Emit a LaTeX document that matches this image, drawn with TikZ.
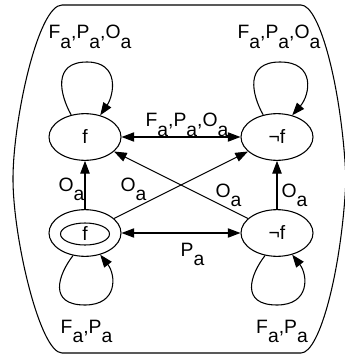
\documentclass[tikz,border=0pt]{standalone}
\usepackage{fontspec}
\setmainfont{Liberation Sans}
\usetikzlibrary{shapes.geometric,arrows.meta}
\newcommand\sba{\raisebox{-0.5em}{a}}
\begin{document}
\begin{tikzpicture}[x=0.75pt,y=-0.75pt,
  font=\fontsize{14.5}{17}\selectfont,
  st/.style={ellipse,draw,line width=0.8pt,minimum width=54pt,minimum height=35pt,inner sep=0pt},
  tip/.tip={Triangle[length=9.5pt,width=7pt]},
  tr/.style={line width=0.8pt,-tip},
  bi/.style={line width=0.8pt,tip-tip},
  lab/.style={anchor=base,inner sep=0pt}]
\useasboundingbox (0,0) rectangle (344,356);
% frame
\draw[line width=0.8pt] (62,5) -- (301,5)
  .. controls (320,5) and (342,90) .. (346,179)
  .. controls (342,268) and (320,353) .. (301,353) -- (62,353)
  .. controls (40,353) and (13,238) .. (13,179)
  .. controls (13,120) and (38,5) .. (62,5) -- cycle;
% states
\node[st] (f1) at (85,137) {f};
\node[st] (nf1) at (277,137) {¬f};
\node[st] (f2) at (85,233) {};
\node[ellipse,draw,line width=0.8pt,minimum width=36.75pt,minimum height=16.5pt,inner sep=0pt] (f2in) at (85,234) {f};
\node[st] (nf2) at (277,233) {¬f};
% edges
\draw[bi] (f1) -- (nf1);
\draw[bi] (f2) -- (nf2);
\draw[tr] (f2) -- (f1);
\draw[tr] (nf2) -- (nf1);
\draw[tr] (f2) -- (nf1);
\draw[tr] (nf2) -- (f1);
% loops
\draw[tr] (f1.122) .. controls (60,95) and (52,62) .. (87,62) .. controls (120,62) and (114,95) .. (f1.55);
\draw[tr] (nf1.122) .. controls (252,95) and (244,62) .. (280,62) .. controls (316,62) and (310,95) .. (nf1.55);
\draw[tr] (f2.242) .. controls (58,275) and (48,305) .. (85,305) .. controls (118,305) and (116,275) .. (f2.305);
\draw[tr] (nf2.242) .. controls (250,275) and (240,305) .. (277,305) .. controls (310,305) and (308,275) .. (nf2.305);
% labels
\node[lab] (l1) at (90,39) {F\sba,P\sba,O\sba};
\node[lab] (l2) at (279,39) {F\sba,P\sba,O\sba};
\node[lab] (l3) at (187,127) {F\sba,P\sba,O\sba};
\node[lab] (l4) at (71.5,191) {O\sba};
\node[lab] (l5) at (133.5,191) {O\sba};
\node[lab] (l6) at (228.5,197) {O\sba};
\node[lab] (l7) at (294.5,197) {O\sba};
\node[lab] (l8) at (192.5,256) {P\sba};
\node[lab] (l9) at (86.5,333) {F\sba,P\sba};
\node[lab] (l10) at (282,333) {F\sba,P\sba};
\end{tikzpicture}
\end{document}
